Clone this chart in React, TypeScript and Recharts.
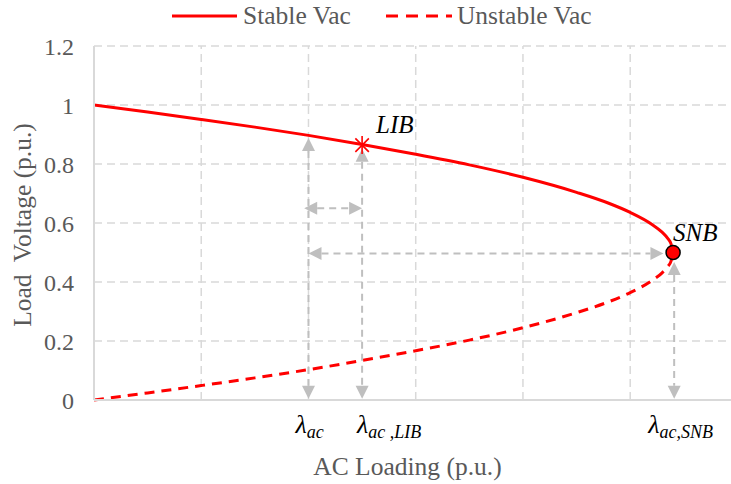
import React from 'react';
import {
  ComposedChart, Line, XAxis, YAxis, CartesianGrid, ReferenceLine, ReferenceDot,
} from 'recharts';

const loading = [0, 0.5, 1, 1.5, 2, 2.5, 3, 3.5, 4, 4.5, 4.8, 5, 5.2, 5.3, 5.35, 5.38, 5.4];
const stableVac = [1, 0.976, 0.951, 0.925, 0.897, 0.866, 0.833, 0.797, 0.755, 0.704, 0.667, 0.636, 0.596, 0.568, 0.548, 0.53, 0.5];
const unstableVac = [0, 0.024, 0.049, 0.075, 0.103, 0.134, 0.167, 0.203, 0.245, 0.296, 0.333, 0.364, 0.404, 0.432, 0.452, 0.47, 0.5];
const yTicks = [0, 0.2, 0.4, 0.6, 0.8, 1, 1.2];
const xGrid = [1, 2, 3, 4, 5];
const seriesNames = ['Stable Vac', 'Unstable Vac'];

const lambdaAc = 2.0;
const lambdaLib = 2.5;
const libV = 0.864;
const lambdaSnb = 5.4;
const snbV = 0.5;

const data = loading.map((x, i) => ({ x, stable: stableVac[i], unstable: unstableVac[i] }));

const FONT = '"Liberation Serif", "Times New Roman", serif';
const RED = '#ff0000';
const GREY = '#bfbfbf';
const GRID = '#d9d9d9';
const TEXT = '#595959';

const Arrow = (props: any) => {
  const { x1, y1, x2, y2 } = props;
  if ([x1, y1, x2, y2].some((v) => v === undefined || isNaN(v))) return null;
  const dx = x2 - x1;
  const dy = y2 - y1;
  const len = Math.sqrt(dx * dx + dy * dy) || 1;
  const ux = dx / len;
  const uy = dy / len;
  const hl = 13;
  const hw = 6.5;
  const px = -uy;
  const py = ux;
  const head = (tx: number, ty: number, dirx: number, diry: number) => {
    const bx = tx - dirx * hl;
    const by = ty - diry * hl;
    return `${tx},${ty} ${bx + px * hw},${by + py * hw} ${bx - px * hw},${by - py * hw}`;
  };
  return (
    <g>
      <line
        x1={x1 + ux * hl}
        y1={y1 + uy * hl}
        x2={x2 - ux * hl}
        y2={y2 - uy * hl}
        stroke={GREY}
        strokeWidth={2}
        strokeDasharray="7 5"
      />
      <polygon points={head(x1, y1, -ux, -uy)} fill={GREY} />
      <polygon points={head(x2, y2, ux, uy)} fill={GREY} />
    </g>
  );
};

const LibMarker = (props: any) => {
  const { cx, cy } = props;
  const r = 9;
  const d = r * 0.75;
  return (
    <g stroke={RED} strokeWidth={1.6}>
      <line x1={cx - d} y1={cy - d} x2={cx + d} y2={cy + d} />
      <line x1={cx - d} y1={cy + d} x2={cx + d} y2={cy - d} />
      <line x1={cx} y1={cy - r} x2={cx} y2={cy + r} />
      <text x={cx + 14} y={cy - 12} fill="#000" stroke="none" fontFamily={FONT} fontStyle="italic" fontSize={25}>LIB</text>
    </g>
  );
};

const SnbMarker = (props: any) => {
  const { cx, cy } = props;
  return (
    <g>
      <circle cx={cx} cy={cy} r={7} fill={RED} stroke="#000" strokeWidth={1.5} />
      <text x={cx} y={cy - 12} fill="#000" fontFamily={FONT} fontStyle="italic" fontSize={25}>SNB</text>
    </g>
  );
};

const lambdaLabel = (sub: string, shift: number) => (props: any) => {
  const { cx, cy } = props;
  return (
    <text x={cx + shift} y={cy + 33} fill="#000" fontFamily={FONT} fontStyle="italic" fontSize={26}>
      <tspan>λ</tspan>
      <tspan fontSize={18} dy={5}>{sub}</tspan>
    </text>
  );
};

const LegendBox = () => (
  <div
    style={{
      position: 'absolute', top: 1, left: 172, height: 30,
      display: 'flex', alignItems: 'center', whiteSpace: 'nowrap',
      fontFamily: FONT, fontSize: 25.5, color: TEXT,
    }}
  >
    <svg width={65} height={10} style={{ marginRight: 6 }}>
      <line x1={0} y1={5} x2={65} y2={5} stroke={RED} strokeWidth={3} />
    </svg>
    <span style={{ marginRight: 35 }}>{seriesNames[0]}</span>
    <svg width={66} height={10} style={{ marginRight: 5 }}>
      <line x1={0} y1={5} x2={66} y2={5} stroke={RED} strokeWidth={3} strokeDasharray="12 8" />
    </svg>
    <span>{seriesNames[1]}</span>
  </div>
);

export default function App() {
  return (
    <div style={{ position: 'absolute', top: 0, left: 0, width: 731, height: 484, overflow: 'hidden', background: '#fff' }}>
      <ComposedChart width={731} height={484} data={data} margin={{ top: 46, right: 0, bottom: 0, left: 0 }}>
        <CartesianGrid stroke={GRID} strokeWidth={1.5} strokeDasharray="8 5" vertical={false} />
        {xGrid.map((g) => (
          <ReferenceLine key={g} x={g} stroke={GRID} strokeWidth={1.5} strokeDasharray="8 5" />
        ))}
        <XAxis
          dataKey="x"
          type="number"
          domain={[0, 5.94]}
          ticks={[0, ...xGrid]}
          tick={false}
          tickLine={false}
          height={84}
          axisLine={{ stroke: GRID, strokeWidth: 2 }}
          allowDataOverflow
          label={{ value: 'AC Loading (p.u.)', position: 'insideBottom', offset: 9, dx: -5, style: { fontFamily: FONT, fontSize: 25.5, fill: TEXT } }}
        />
        <YAxis
          type="number"
          domain={[0, 1.2]}
          ticks={yTicks}
          width={94}
          tickLine={false}
          tickMargin={14}
          axisLine={{ stroke: GRID, strokeWidth: 2 }}
          tick={{ fontFamily: FONT, fontSize: 24, fill: TEXT }}
          label={{ value: 'Load\u00a0 Voltage (p.u.)', angle: -90, position: 'insideLeft', offset: 22, dy: 2, style: { textAnchor: 'middle', fontFamily: FONT, fontSize: 25.5, fill: TEXT } }}
        />
        <Line dataKey="stable" type="monotone" stroke={RED} strokeWidth={3} dot={false} isAnimationActive={false} />
        <Line dataKey="unstable" type="monotone" stroke={RED} strokeWidth={3} strokeDasharray="10 7" dot={false} isAnimationActive={false} />
        <ReferenceLine segment={[{ x: lambdaAc, y: 0.888 }, { x: lambdaAc, y: 0.004 }]} shape={Arrow} ifOverflow="visible" />
        <ReferenceLine segment={[{ x: lambdaLib, y: 0.852 }, { x: lambdaLib, y: 0.004 }]} shape={Arrow} ifOverflow="visible" />
        <ReferenceLine segment={[{ x: 1.96, y: 0.65 }, { x: lambdaLib, y: 0.65 }]} shape={Arrow} ifOverflow="visible" />
        <ReferenceLine segment={[{ x: lambdaAc, y: 0.497 }, { x: 5.31, y: 0.497 }]} shape={Arrow} ifOverflow="visible" />
        <ReferenceLine segment={[{ x: 5.41, y: 0.468 }, { x: 5.41, y: 0.004 }]} shape={Arrow} ifOverflow="visible" />
        <ReferenceDot x={lambdaLib} y={libV} shape={LibMarker} ifOverflow="visible" />
        <ReferenceDot x={lambdaSnb} y={snbV} shape={SnbMarker} ifOverflow="visible" />
        <ReferenceDot x={lambdaAc} y={0} shape={lambdaLabel('ac', -13)} ifOverflow="visible" />
        <ReferenceDot x={lambdaLib} y={0} shape={lambdaLabel('ac ,LIB', -5)} ifOverflow="visible" />
        <ReferenceDot x={5.41} y={0} shape={lambdaLabel('ac,SNB', -26)} ifOverflow="visible" />
      </ComposedChart>
      <LegendBox />
    </div>
  );
}
